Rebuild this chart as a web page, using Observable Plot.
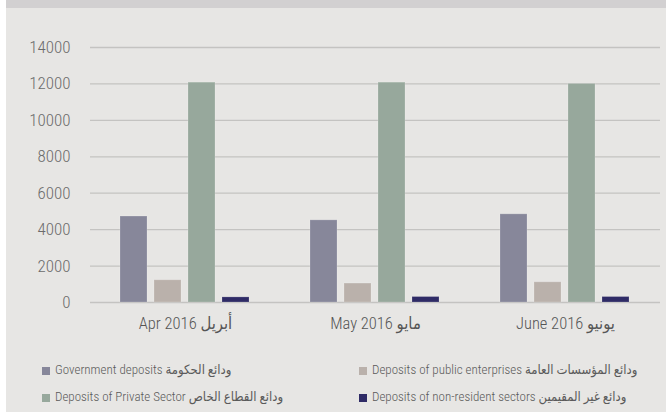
<!DOCTYPE html>
<html>
<head>
<meta charset="utf-8">
<script src="https://cdn.jsdelivr.net/npm/d3@7"></script>
<script src="https://cdn.jsdelivr.net/npm/@observablehq/plot@0.6"></script>
<style>
  html, body { margin: 0; padding: 0; background: #ffffff; }
  #panel { position: absolute; left: 6px; top: 0; width: 660px; height: 412px; background: #e7e6e4; overflow: hidden;
           font-family: Roboto, "DejaVu Sans Condensed", sans-serif; font-stretch: 75%; font-weight: 300; }
  #band { position: absolute; left: 0; top: 0; width: 660px; height: 8px; background: #d2d0d1; }
  #chart { position: absolute; left: 0; top: 8px; }
  #chart svg text { font-stretch: 75%; font-weight: 300; }
  .leg { position: absolute; font-size: 13px; color: #5a5a5a; white-space: nowrap; line-height: 14px; }
  .sw { display: inline-block; width: 8px; height: 8px; margin-right: 5px; vertical-align: -1px; }
</style>
</head>
<body>
<div id="panel">
  <div id="band"></div>
  <div id="chart"></div>
  <div id="legend"></div>
</div>
<script>
const months = ["Apr 2016 أبريل", "May 2016 مايو", "June 2016 يونيو"];
const seriesKeys = ["gov", "public", "private", "nonres"];
const seriesLabels = [
  "Government deposits ودائع الحكومة",
  "Deposits of public enterprises ودائع المؤسسات العامة",
  "Deposits of Private Sector ودائع القطاع الخاص",
  "Deposits of non-resident sectors ودائع غير المقيمين"
];
const seriesColors = ["#87879a", "#bab1ab", "#97a89c", "#2f2b66"];
const govValues = [4720, 4510, 4840];
const publicValues = [1220, 1040, 1110];
const privateValues = [12070, 12070, 12000];
const nonresValues = [280, 300, 300];
const yTicks = [0, 2000, 4000, 6000, 8000, 10000, 12000, 14000];

const valuesBySeries = [govValues, publicValues, privateValues, nonresValues];
const data = [];
months.forEach((m, i) => {
  seriesKeys.forEach((s, j) => {
    data.push({month: m, series: s, value: valuesBySeries[j][i]});
  });
});

const W = 660, ML = 84, MR = 6;
const fxInner = 0.242, fxOuter = 0.121;
const step = (W - ML - MR) / (months.length - fxInner + 2 * fxOuter);
const ext = Math.max(fxOuter * step, fxInner * step / 2);

const chart = Plot.plot({
  width: W,
  height: 334,
  marginTop: 39,
  marginBottom: 40,
  marginLeft: ML,
  marginRight: MR,
  style: {background: "transparent", fontFamily: 'Roboto, "DejaVu Sans Condensed", sans-serif'},
  fx: {domain: months, paddingInner: fxInner, paddingOuter: fxOuter, label: null},
  x: {domain: seriesKeys, padding: 0.2, axis: null},
  y: {domain: [0, 14000], label: null},
  color: {domain: seriesKeys, range: seriesColors},
  marks: [
    Plot.ruleY(yTicks, {stroke: "#c4c3c1", strokeWidth: 1.3, insetLeft: -ext, insetRight: -ext}),
    Plot.barY(data, {fx: "month", x: "series", y: "value", fill: "series", stroke: "#ffffff", strokeOpacity: 0.18, strokeWidth: 1}),
    Plot.axisY({ticks: yTicks, tickSize: 0, tickPadding: 20 + ext, tickFormat: d3.format("d"), fontSize: 17, fill: "#6b6b6b", label: null}),
    Plot.axisFx({anchor: "bottom", tickSize: 0, tickPadding: 15, fontSize: 16.5, fill: "#555555", label: null})
  ]
});
document.getElementById("chart").appendChild(chart);

const legendPos = [
  {left: 36, top: 363},
  {left: 353, top: 363},
  {left: 36, top: 390},
  {left: 353, top: 390}
];
const legend = document.getElementById("legend");
seriesLabels.forEach((lab, i) => {
  const d = document.createElement("div");
  d.className = "leg";
  d.style.left = legendPos[i].left + "px";
  d.style.top = legendPos[i].top + "px";
  const sw = document.createElement("span");
  sw.className = "sw";
  sw.style.background = seriesColors[i];
  d.appendChild(sw);
  d.appendChild(document.createTextNode(lab));
  legend.appendChild(d);
});
</script>
</body>
</html>
